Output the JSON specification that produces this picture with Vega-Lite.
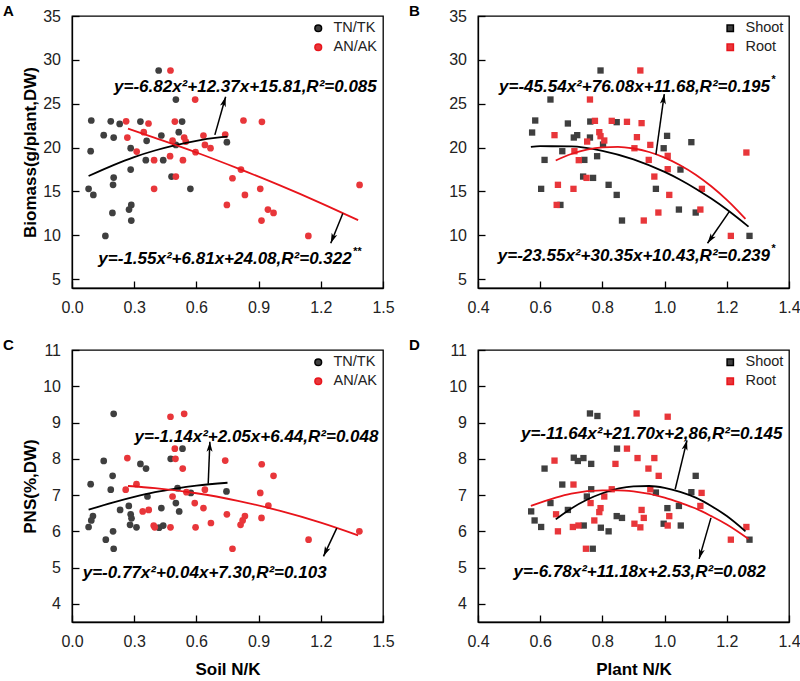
{
"$schema": "https://vega.github.io/schema/vega-lite/v6.json",
"background": "white",
"padding": {"left": 2, "top": 3, "right": 0, "bottom": 0},
"datasets": {
"pts": [
{"p":"A","s":"TN/TK","x":0.418,"y":28.79},{"p":"A","s":"TN/TK","x":0.501,"y":25.48},{"p":"A","s":"TN/TK","x":0.093,"y":23.09},{"p":"A","s":"TN/TK","x":0.187,"y":23.0},{"p":"A","s":"TN/TK","x":0.230,"y":22.7},{"p":"A","s":"TN/TK","x":0.330,"y":22.97},{"p":"A","s":"TN/TK","x":0.531,"y":22.97},{"p":"A","s":"TN/TK","x":0.153,"y":21.42},{"p":"A","s":"TN/TK","x":0.201,"y":21.15},{"p":"A","s":"TN/TK","x":0.431,"y":21.38},{"p":"A","s":"TN/TK","x":0.515,"y":21.76},{"p":"A","s":"TN/TK","x":0.360,"y":20.77},{"p":"A","s":"TN/TK","x":0.090,"y":19.59},{"p":"A","s":"TN/TK","x":0.283,"y":19.93},{"p":"A","s":"TN/TK","x":0.501,"y":20.31},{"p":"A","s":"TN/TK","x":0.747,"y":20.62},{"p":"A","s":"TN/TK","x":0.356,"y":18.57},{"p":"A","s":"TN/TK","x":0.440,"y":18.57},{"p":"A","s":"TN/TK","x":0.283,"y":17.5},{"p":"A","s":"TN/TK","x":0.480,"y":16.7},{"p":"A","s":"TN/TK","x":0.201,"y":16.59},{"p":"A","s":"TN/TK","x":0.198,"y":15.76},{"p":"A","s":"TN/TK","x":0.080,"y":15.3},{"p":"A","s":"TN/TK","x":0.103,"y":14.61},{"p":"A","s":"TN/TK","x":0.571,"y":15.3},{"p":"A","s":"TN/TK","x":0.286,"y":13.47},{"p":"A","s":"TN/TK","x":0.275,"y":12.94},{"p":"A","s":"TN/TK","x":0.195,"y":12.56},{"p":"A","s":"TN/TK","x":0.286,"y":11.69},{"p":"A","s":"TN/TK","x":0.161,"y":9.94},
{"p":"A","s":"AN/AK","x":0.475,"y":28.79},{"p":"A","s":"AN/AK","x":0.594,"y":25.48},{"p":"A","s":"AN/AK","x":0.261,"y":23.0},{"p":"A","s":"AN/AK","x":0.369,"y":22.75},{"p":"A","s":"AN/AK","x":0.496,"y":22.97},{"p":"A","s":"AN/AK","x":0.827,"y":23.09},{"p":"A","s":"AN/AK","x":0.916,"y":22.94},{"p":"A","s":"AN/AK","x":0.346,"y":21.76},{"p":"A","s":"AN/AK","x":0.267,"y":21.15},{"p":"A","s":"AN/AK","x":0.541,"y":21.15},{"p":"A","s":"AN/AK","x":0.634,"y":21.38},{"p":"A","s":"AN/AK","x":0.739,"y":21.49},{"p":"A","s":"AN/AK","x":0.485,"y":20.81},{"p":"A","s":"AN/AK","x":0.549,"y":20.69},{"p":"A","s":"AN/AK","x":0.641,"y":20.31},{"p":"A","s":"AN/AK","x":0.668,"y":19.93},{"p":"A","s":"AN/AK","x":0.312,"y":19.55},{"p":"A","s":"AN/AK","x":0.596,"y":19.48},{"p":"A","s":"AN/AK","x":0.396,"y":18.57},{"p":"A","s":"AN/AK","x":0.473,"y":19.02},{"p":"A","s":"AN/AK","x":0.535,"y":18.57},{"p":"A","s":"AN/AK","x":0.815,"y":17.5},{"p":"A","s":"AN/AK","x":0.774,"y":16.51},{"p":"A","s":"AN/AK","x":0.501,"y":16.7},{"p":"A","s":"AN/AK","x":0.396,"y":15.3},{"p":"A","s":"AN/AK","x":0.908,"y":15.3},{"p":"A","s":"AN/AK","x":0.834,"y":14.61},{"p":"A","s":"AN/AK","x":0.747,"y":13.47},{"p":"A","s":"AN/AK","x":0.945,"y":12.94},{"p":"A","s":"AN/AK","x":0.972,"y":12.56},{"p":"A","s":"AN/AK","x":0.914,"y":11.69},{"p":"A","s":"AN/AK","x":1.140,"y":9.94},{"p":"A","s":"AN/AK","x":1.387,"y":15.75},
{"p":"B","s":"Shoot","x":0.794,"y":28.79},{"p":"B","s":"Shoot","x":0.633,"y":25.48},{"p":"B","s":"Shoot","x":0.584,"y":23.09},{"p":"B","s":"Shoot","x":0.689,"y":22.75},{"p":"B","s":"Shoot","x":0.761,"y":22.97},{"p":"B","s":"Shoot","x":0.846,"y":22.9},{"p":"B","s":"Shoot","x":0.574,"y":21.72},{"p":"B","s":"Shoot","x":0.719,"y":21.42},{"p":"B","s":"Shoot","x":0.708,"y":21.15},{"p":"B","s":"Shoot","x":0.760,"y":21.15},{"p":"B","s":"Shoot","x":1.008,"y":21.34},{"p":"B","s":"Shoot","x":1.086,"y":20.62},{"p":"B","s":"Shoot","x":0.802,"y":20.35},{"p":"B","s":"Shoot","x":0.997,"y":19.93},{"p":"B","s":"Shoot","x":0.671,"y":19.59},{"p":"B","s":"Shoot","x":0.614,"y":18.6},{"p":"B","s":"Shoot","x":0.742,"y":18.6},{"p":"B","s":"Shoot","x":0.783,"y":19.02},{"p":"B","s":"Shoot","x":1.051,"y":17.5},{"p":"B","s":"Shoot","x":0.738,"y":16.7},{"p":"B","s":"Shoot","x":0.770,"y":16.55},{"p":"B","s":"Shoot","x":0.603,"y":15.3},{"p":"B","s":"Shoot","x":0.820,"y":15.76},{"p":"B","s":"Shoot","x":0.972,"y":15.3},{"p":"B","s":"Shoot","x":0.846,"y":14.61},{"p":"B","s":"Shoot","x":0.665,"y":13.47},{"p":"B","s":"Shoot","x":1.046,"y":12.94},{"p":"B","s":"Shoot","x":1.100,"y":12.6},{"p":"B","s":"Shoot","x":0.863,"y":11.69},{"p":"B","s":"Shoot","x":1.273,"y":9.94},
{"p":"B","s":"Root","x":0.922,"y":28.79},{"p":"B","s":"Root","x":0.760,"y":25.48},{"p":"B","s":"Root","x":0.776,"y":23.05},{"p":"B","s":"Root","x":0.830,"y":23.05},{"p":"B","s":"Root","x":0.879,"y":22.94},{"p":"B","s":"Root","x":0.926,"y":22.79},{"p":"B","s":"Root","x":0.646,"y":21.42},{"p":"B","s":"Root","x":0.790,"y":21.76},{"p":"B","s":"Root","x":0.794,"y":21.3},{"p":"B","s":"Root","x":0.806,"y":20.81},{"p":"B","s":"Root","x":0.911,"y":21.19},{"p":"B","s":"Root","x":0.954,"y":20.31},{"p":"B","s":"Root","x":0.903,"y":19.93},{"p":"B","s":"Root","x":0.710,"y":19.59},{"p":"B","s":"Root","x":0.751,"y":20.69},{"p":"B","s":"Root","x":1.010,"y":19.06},{"p":"B","s":"Root","x":0.724,"y":18.57},{"p":"B","s":"Root","x":0.949,"y":18.6},{"p":"B","s":"Root","x":1.010,"y":17.54},{"p":"B","s":"Root","x":0.967,"y":16.7},{"p":"B","s":"Root","x":0.657,"y":15.76},{"p":"B","s":"Root","x":0.707,"y":15.3},{"p":"B","s":"Root","x":1.120,"y":15.3},{"p":"B","s":"Root","x":1.015,"y":14.61},{"p":"B","s":"Root","x":0.653,"y":13.47},{"p":"B","s":"Root","x":0.749,"y":16.55},{"p":"B","s":"Root","x":0.980,"y":12.6},{"p":"B","s":"Root","x":1.115,"y":12.94},{"p":"B","s":"Root","x":0.933,"y":11.69},{"p":"B","s":"Root","x":1.213,"y":9.94},{"p":"B","s":"Root","x":1.263,"y":19.44},
{"p":"C","s":"TN/TK","x":0.201,"y":9.24},{"p":"C","s":"TN/TK","x":0.533,"y":8.28},{"p":"C","s":"TN/TK","x":0.476,"y":8.0},{"p":"C","s":"TN/TK","x":0.153,"y":7.94},{"p":"C","s":"TN/TK","x":0.330,"y":7.86},{"p":"C","s":"TN/TK","x":0.357,"y":7.73},{"p":"C","s":"TN/TK","x":0.196,"y":7.53},{"p":"C","s":"TN/TK","x":0.090,"y":7.30},{"p":"C","s":"TN/TK","x":0.187,"y":7.15},{"p":"C","s":"TN/TK","x":0.364,"y":6.96},{"p":"C","s":"TN/TK","x":0.573,"y":7.06},{"p":"C","s":"TN/TK","x":0.745,"y":7.10},{"p":"C","s":"TN/TK","x":0.509,"y":7.19},{"p":"C","s":"TN/TK","x":0.274,"y":6.70},{"p":"C","s":"TN/TK","x":0.232,"y":6.59},{"p":"C","s":"TN/TK","x":0.431,"y":6.64},{"p":"C","s":"TN/TK","x":0.501,"y":6.78},{"p":"C","s":"TN/TK","x":0.517,"y":6.55},{"p":"C","s":"TN/TK","x":0.283,"y":6.47},{"p":"C","s":"TN/TK","x":0.287,"y":6.36},{"p":"C","s":"TN/TK","x":0.101,"y":6.42},{"p":"C","s":"TN/TK","x":0.093,"y":6.30},{"p":"C","s":"TN/TK","x":0.080,"y":6.12},{"p":"C","s":"TN/TK","x":0.280,"y":6.18},{"p":"C","s":"TN/TK","x":0.311,"y":6.11},{"p":"C","s":"TN/TK","x":0.420,"y":6.10},{"p":"C","s":"TN/TK","x":0.440,"y":6.16},{"p":"C","s":"TN/TK","x":0.198,"y":6.0},{"p":"C","s":"TN/TK","x":0.163,"y":5.77},{"p":"C","s":"TN/TK","x":0.201,"y":5.52},
{"p":"C","s":"AN/AK","x":0.475,"y":9.16},{"p":"C","s":"AN/AK","x":0.541,"y":9.24},{"p":"C","s":"AN/AK","x":0.496,"y":8.28},{"p":"C","s":"AN/AK","x":0.499,"y":8.0},{"p":"C","s":"AN/AK","x":0.267,"y":8.02},{"p":"C","s":"AN/AK","x":0.534,"y":7.73},{"p":"C","s":"AN/AK","x":0.739,"y":7.95},{"p":"C","s":"AN/AK","x":0.915,"y":7.85},{"p":"C","s":"AN/AK","x":0.972,"y":7.53},{"p":"C","s":"AN/AK","x":0.311,"y":7.30},{"p":"C","s":"AN/AK","x":0.259,"y":7.15},{"p":"C","s":"AN/AK","x":0.641,"y":7.15},{"p":"C","s":"AN/AK","x":0.552,"y":7.08},{"p":"C","s":"AN/AK","x":0.485,"y":6.96},{"p":"C","s":"AN/AK","x":0.908,"y":7.06},{"p":"C","s":"AN/AK","x":0.592,"y":6.78},{"p":"C","s":"AN/AK","x":0.634,"y":6.64},{"p":"C","s":"AN/AK","x":0.947,"y":6.71},{"p":"C","s":"AN/AK","x":0.341,"y":6.55},{"p":"C","s":"AN/AK","x":0.370,"y":6.59},{"p":"C","s":"AN/AK","x":0.747,"y":6.47},{"p":"C","s":"AN/AK","x":0.834,"y":6.42},{"p":"C","s":"AN/AK","x":0.823,"y":6.30},{"p":"C","s":"AN/AK","x":0.813,"y":6.18},{"p":"C","s":"AN/AK","x":0.914,"y":6.37},{"p":"C","s":"AN/AK","x":0.394,"y":6.16},{"p":"C","s":"AN/AK","x":0.399,"y":6.11},{"p":"C","s":"AN/AK","x":0.475,"y":6.11},{"p":"C","s":"AN/AK","x":0.596,"y":6.11},{"p":"C","s":"AN/AK","x":0.670,"y":6.23},{"p":"C","s":"AN/AK","x":0.774,"y":5.52},{"p":"C","s":"AN/AK","x":1.141,"y":5.77},{"p":"C","s":"AN/AK","x":1.386,"y":6.0},
{"p":"D","s":"Shoot","x":0.760,"y":9.25},{"p":"D","s":"Shoot","x":0.784,"y":9.18},{"p":"D","s":"Shoot","x":0.847,"y":8.28},{"p":"D","s":"Shoot","x":0.708,"y":8.03},{"p":"D","s":"Shoot","x":0.721,"y":7.94},{"p":"D","s":"Shoot","x":0.739,"y":8.02},{"p":"D","s":"Shoot","x":0.764,"y":7.86},{"p":"D","s":"Shoot","x":0.614,"y":7.73},{"p":"D","s":"Shoot","x":1.100,"y":7.53},{"p":"D","s":"Shoot","x":0.671,"y":7.29},{"p":"D","s":"Shoot","x":0.764,"y":7.16},{"p":"D","s":"Shoot","x":0.972,"y":7.07},{"p":"D","s":"Shoot","x":1.086,"y":7.08},{"p":"D","s":"Shoot","x":0.750,"y":6.96},{"p":"D","s":"Shoot","x":0.633,"y":6.78},{"p":"D","s":"Shoot","x":0.689,"y":6.59},{"p":"D","s":"Shoot","x":0.571,"y":6.55},{"p":"D","s":"Shoot","x":1.009,"y":6.64},{"p":"D","s":"Shoot","x":1.046,"y":6.70},{"p":"D","s":"Shoot","x":0.846,"y":6.42},{"p":"D","s":"Shoot","x":0.863,"y":6.37},{"p":"D","s":"Shoot","x":0.582,"y":6.30},{"p":"D","s":"Shoot","x":0.603,"y":6.12},{"p":"D","s":"Shoot","x":0.740,"y":6.16},{"p":"D","s":"Shoot","x":0.795,"y":6.10},{"p":"D","s":"Shoot","x":0.820,"y":6.0},{"p":"D","s":"Shoot","x":0.997,"y":6.21},{"p":"D","s":"Shoot","x":1.052,"y":6.16},{"p":"D","s":"Shoot","x":0.769,"y":5.52},{"p":"D","s":"Shoot","x":1.273,"y":5.77},
{"p":"D","s":"Root","x":0.910,"y":9.25},{"p":"D","s":"Root","x":1.010,"y":9.16},{"p":"D","s":"Root","x":0.879,"y":8.28},{"p":"D","s":"Root","x":0.646,"y":7.95},{"p":"D","s":"Root","x":0.913,"y":8.02},{"p":"D","s":"Root","x":0.967,"y":8.02},{"p":"D","s":"Root","x":0.842,"y":7.86},{"p":"D","s":"Root","x":0.948,"y":7.73},{"p":"D","s":"Root","x":0.981,"y":7.53},{"p":"D","s":"Root","x":0.707,"y":7.29},{"p":"D","s":"Root","x":0.830,"y":7.16},{"p":"D","s":"Root","x":0.954,"y":7.16},{"p":"D","s":"Root","x":0.806,"y":6.96},{"p":"D","s":"Root","x":1.119,"y":7.06},{"p":"D","s":"Root","x":0.762,"y":6.78},{"p":"D","s":"Root","x":0.794,"y":6.64},{"p":"D","s":"Root","x":0.790,"y":6.53},{"p":"D","s":"Root","x":0.926,"y":6.59},{"p":"D","s":"Root","x":1.115,"y":6.70},{"p":"D","s":"Root","x":0.651,"y":6.47},{"p":"D","s":"Root","x":1.015,"y":6.42},{"p":"D","s":"Root","x":0.933,"y":6.37},{"p":"D","s":"Root","x":0.774,"y":6.30},{"p":"D","s":"Root","x":0.705,"y":6.12},{"p":"D","s":"Root","x":0.723,"y":6.16},{"p":"D","s":"Root","x":0.903,"y":6.21},{"p":"D","s":"Root","x":0.922,"y":6.11},{"p":"D","s":"Root","x":1.010,"y":6.16},{"p":"D","s":"Root","x":0.657,"y":6.0},{"p":"D","s":"Root","x":0.747,"y":5.52},{"p":"D","s":"Root","x":1.213,"y":5.77},{"p":"D","s":"Root","x":1.263,"y":6.12}
],
"fit": [
{"p":"A","s":"TN/TK","x":0.08,"y":16.76},{"p":"A","s":"TN/TK","x":0.2,"y":18.01},{"p":"A","s":"TN/TK","x":0.3,"y":18.92},{"p":"A","s":"TN/TK","x":0.4,"y":19.67},{"p":"A","s":"TN/TK","x":0.5,"y":20.29},{"p":"A","s":"TN/TK","x":0.6,"y":20.78},{"p":"A","s":"TN/TK","x":0.7,"y":21.13},{"p":"A","s":"TN/TK","x":0.75,"y":21.25},
{"p":"A","s":"AN/AK","x":0.27,"y":22.17},{"p":"A","s":"AN/AK","x":0.4,"y":21.11},{"p":"A","s":"AN/AK","x":0.6,"y":19.44},{"p":"A","s":"AN/AK","x":0.8,"y":17.63},{"p":"A","s":"AN/AK","x":1.0,"y":15.72},{"p":"A","s":"AN/AK","x":1.2,"y":13.68},{"p":"A","s":"AN/AK","x":1.38,"y":11.73},
{"p":"B","s":"Shoot","x":0.57,"y":20.08},{"p":"B","s":"Shoot","x":0.6,"y":20.16},{"p":"B","s":"Shoot","x":0.7,"y":20.14},{"p":"B","s":"Shoot","x":0.8,"y":19.64},{"p":"B","s":"Shoot","x":0.9,"y":18.67},{"p":"B","s":"Shoot","x":1.0,"y":17.23},{"p":"B","s":"Shoot","x":1.05,"y":16.34},{"p":"B","s":"Shoot","x":1.1,"y":15.32},{"p":"B","s":"Shoot","x":1.15,"y":14.19},{"p":"B","s":"Shoot","x":1.2,"y":12.94},{"p":"B","s":"Shoot","x":1.27,"y":10.99},
{"p":"B","s":"Root","x":0.65,"y":18.53},{"p":"B","s":"Root","x":0.7,"y":19.27},{"p":"B","s":"Root","x":0.75,"y":19.76},{"p":"B","s":"Root","x":0.8,"y":20.03},{"p":"B","s":"Root","x":0.85,"y":20.09},{"p":"B","s":"Root","x":0.9,"y":19.9},{"p":"B","s":"Root","x":0.95,"y":19.5},{"p":"B","s":"Root","x":1.0,"y":18.86},{"p":"B","s":"Root","x":1.05,"y":17.99},{"p":"B","s":"Root","x":1.1,"y":16.91},{"p":"B","s":"Root","x":1.15,"y":15.59},{"p":"B","s":"Root","x":1.2,"y":14.04},{"p":"B","s":"Root","x":1.23,"y":13.0},{"p":"B","s":"Root","x":1.26,"y":11.88},
{"p":"C","s":"TN/TK","x":0.08,"y":6.6},{"p":"C","s":"TN/TK","x":0.2,"y":6.8},{"p":"C","s":"TN/TK","x":0.3,"y":6.95},{"p":"C","s":"TN/TK","x":0.4,"y":7.08},{"p":"C","s":"TN/TK","x":0.5,"y":7.18},{"p":"C","s":"TN/TK","x":0.6,"y":7.26},{"p":"C","s":"TN/TK","x":0.75,"y":7.34},
{"p":"C","s":"AN/AK","x":0.27,"y":7.25},{"p":"C","s":"AN/AK","x":0.4,"y":7.19},{"p":"C","s":"AN/AK","x":0.6,"y":7.05},{"p":"C","s":"AN/AK","x":0.8,"y":6.84},{"p":"C","s":"AN/AK","x":1.0,"y":6.57},{"p":"C","s":"AN/AK","x":1.2,"y":6.24},{"p":"C","s":"AN/AK","x":1.38,"y":5.89},
{"p":"D","s":"Shoot","x":0.65,"y":6.33},{"p":"D","s":"Shoot","x":0.7,"y":6.63},{"p":"D","s":"Shoot","x":0.75,"y":6.87},{"p":"D","s":"Shoot","x":0.8,"y":7.05},{"p":"D","s":"Shoot","x":0.9,"y":7.24},{"p":"D","s":"Shoot","x":0.95,"y":7.25},{"p":"D","s":"Shoot","x":1.0,"y":7.2},{"p":"D","s":"Shoot","x":1.05,"y":7.09},{"p":"D","s":"Shoot","x":1.1,"y":6.93},{"p":"D","s":"Shoot","x":1.15,"y":6.7},{"p":"D","s":"Shoot","x":1.2,"y":6.42},{"p":"D","s":"Shoot","x":1.26,"y":6.0},
{"p":"D","s":"Root","x":0.57,"y":6.7},{"p":"D","s":"Root","x":0.65,"y":6.93},{"p":"D","s":"Root","x":0.7,"y":7.04},{"p":"D","s":"Root","x":0.8,"y":7.13},{"p":"D","s":"Root","x":0.85,"y":7.13},{"p":"D","s":"Root","x":0.9,"y":7.1},{"p":"D","s":"Root","x":1.0,"y":6.93},{"p":"D","s":"Root","x":1.05,"y":6.79},{"p":"D","s":"Root","x":1.1,"y":6.63},{"p":"D","s":"Root","x":1.15,"y":6.42},{"p":"D","s":"Root","x":1.2,"y":6.19},{"p":"D","s":"Root","x":1.27,"y":5.79}
],
"arr": [
{"p":"A","x":0.741,"y":25.8,"tx":0.689,"ty":21.45,"a":16},
{"p":"A","x":1.248,"y":9.1,"tx":1.306,"ty":12.5,"a":202},
{"p":"B","x":0.999,"y":26.1,"tx":0.972,"ty":19.2,"a":8},
{"p":"B","x":1.138,"y":9.1,"tx":1.208,"ty":12.7,"a":215},
{"p":"C","x":0.665,"y":8.47,"tx":0.657,"ty":7.31,"a":2},
{"p":"C","x":1.213,"y":5.31,"tx":1.277,"ty":6.09,"a":205},
{"p":"D","x":1.072,"y":8.51,"tx":1.034,"ty":7.16,"a":14},
{"p":"D","x":1.111,"y":5.24,"tx":1.149,"ty":6.37,"a":196}
],
"eq": [
{"p":"A","x":1.47,"y":26.9,"t":"y=-6.82x²+12.37x+15.81,R²=0.085","st":""},
{"p":"A","x":1.349,"y":7.31,"t":"y=-1.55x²+6.81x+24.08,R²=0.322","st":"**"},
{"p":"B","x":1.339,"y":26.96,"t":"y=-45.54x²+76.08x+11.68,R²=0.195","st":"*"},
{"p":"B","x":1.339,"y":7.69,"t":"y=-23.55x²+30.35x+10.43,R²=0.239","st":"*"},
{"p":"C","x":1.478,"y":8.6,"t":"y=-1.14x²+2.05x+6.44,R²=0.048","st":""},
{"p":"C","x":1.228,"y":4.86,"t":"y=-0.77x²+0.04x+7.30,R²=0.103","st":""},
{"p":"D","x":1.379,"y":8.69,"t":"y=-11.64x²+21.70x+2,86,R²=0.145","st":""},
{"p":"D","x":1.325,"y":4.875,"t":"y=-6.78x²+11.18x+2.53,R²=0.082","st":""}
]
},
"columns": 2,
"spacing": {"row": 62, "column": 95},
"bounds": "flush",
"resolve": {"scale": {"color": "independent", "stroke": "independent", "x": "independent", "y": "independent"}, "legend": {"color": "independent"}},
"concat": [
{
"width": 311, "height": 272,
"title": {"text": "A"},
"encoding": {
"x": {"field": "x", "type": "quantitative", "title": null, "scale": {"domain": [0, 1.5], "nice": false, "zero": false}, "axis": {"values": [0, 0.3, 0.6, 0.9, 1.2, 1.5], "format": ".1f"}},
"y": {"field": "y", "type": "quantitative", "title": "Biomass(g/plant,DW)", "scale": {"domain": [4, 35], "nice": false, "zero": false}, "axis": {"values": [5, 10, 15, 20, 25, 30, 35]}}
},
"layer": [
{"data": {"name": "pts"}, "transform": [{"filter": "datum.p == 'A'"}], "mark": {"type": "point", "filled": true, "shape": "circle", "size": 45, "opacity": 1},
 "encoding": {"color": {"field": "s", "type": "nominal", "scale": {"domain": ["TN/TK", "AN/AK"], "range": ["#3f3f3f", "#e8363a"]}, "legend": {"orient": "top-right", "title": null, "offset": 5, "padding": 0, "symbolType": "circle", "symbolSize": 45, "labelFontSize": 14.5, "labelOffset": 8, "rowPadding": 4, "labelColor": "#222"}}}},
{"data": {"name": "fit"}, "transform": [{"filter": "datum.p == 'A'"}], "mark": {"type": "line", "interpolate": "monotone", "strokeWidth": 1.8},
 "encoding": {"stroke": {"field": "s", "type": "nominal", "scale": {"domain": ["TN/TK", "AN/AK"], "range": ["#000000", "#e8141b"]}, "legend": null}}},
{"data": {"name": "arr"}, "transform": [{"filter": "datum.p == 'A'"}], "mark": {"type": "rule", "color": "#000", "strokeWidth": 1.5},
 "encoding": {"x2": {"field": "tx"}, "y2": {"field": "ty"}}},
{"data": {"name": "arr"}, "transform": [{"filter": "datum.p == 'A'"}], "mark": {"type": "point", "shape": "M0,0L-0.6,2L0,1.5L0.6,2Z", "filled": true, "color": "#000", "size": 100, "opacity": 1},
 "encoding": {"angle": {"field": "a", "type": "quantitative", "scale": null}}},
{"data": {"name": "eq"}, "transform": [{"filter": "datum.p == 'A'"}], "mark": {"type": "text", "align": "right", "baseline": "middle", "fontSize": 17, "fontWeight": "bold", "fontStyle": "italic", "color": "#000"},
 "encoding": {"text": {"field": "t"}}},
{"data": {"name": "eq"}, "transform": [{"filter": "datum.p == 'A'"}], "mark": {"type": "text", "align": "left", "baseline": "middle", "dy": -7, "dx": 1, "fontSize": 11, "fontWeight": "bold", "fontStyle": "italic", "color": "#000"},
 "encoding": {"text": {"field": "st"}}}
]
},
{
"width": 311, "height": 272,
"title": {"text": "B"},
"encoding": {
"x": {"field": "x", "type": "quantitative", "title": null, "scale": {"domain": [0.4, 1.4], "nice": false, "zero": false}, "axis": {"values": [0.4, 0.6, 0.8, 1.0, 1.2, 1.4], "format": ".1f"}},
"y": {"field": "y", "type": "quantitative", "title": null, "scale": {"domain": [4, 35], "nice": false, "zero": false}, "axis": {"values": [5, 10, 15, 20, 25, 30, 35]}}
},
"layer": [
{"data": {"name": "pts"}, "transform": [{"filter": "datum.p == 'B'"}], "mark": {"type": "point", "filled": true, "shape": "square", "size": 40, "opacity": 1},
 "encoding": {"color": {"field": "s", "type": "nominal", "scale": {"domain": ["Shoot", "Root"], "range": ["#3f3f3f", "#e8363a"]}, "legend": {"orient": "top-right", "title": null, "offset": 5, "padding": 0, "symbolType": "square", "symbolSize": 40, "labelFontSize": 14.5, "labelOffset": 8, "rowPadding": 4, "labelColor": "#222"}}}},
{"data": {"name": "fit"}, "transform": [{"filter": "datum.p == 'B'"}], "mark": {"type": "line", "interpolate": "monotone", "strokeWidth": 1.8},
 "encoding": {"stroke": {"field": "s", "type": "nominal", "scale": {"domain": ["Shoot", "Root"], "range": ["#000000", "#e8141b"]}, "legend": null}}},
{"data": {"name": "arr"}, "transform": [{"filter": "datum.p == 'B'"}], "mark": {"type": "rule", "color": "#000", "strokeWidth": 1.5},
 "encoding": {"x2": {"field": "tx"}, "y2": {"field": "ty"}}},
{"data": {"name": "arr"}, "transform": [{"filter": "datum.p == 'B'"}], "mark": {"type": "point", "shape": "M0,0L-0.6,2L0,1.5L0.6,2Z", "filled": true, "color": "#000", "size": 100, "opacity": 1},
 "encoding": {"angle": {"field": "a", "type": "quantitative", "scale": null}}},
{"data": {"name": "eq"}, "transform": [{"filter": "datum.p == 'B'"}], "mark": {"type": "text", "align": "right", "baseline": "middle", "fontSize": 17, "fontWeight": "bold", "fontStyle": "italic", "color": "#000"},
 "encoding": {"text": {"field": "t"}}},
{"data": {"name": "eq"}, "transform": [{"filter": "datum.p == 'B'"}], "mark": {"type": "text", "align": "left", "baseline": "middle", "dy": -7, "dx": 1, "fontSize": 11, "fontWeight": "bold", "fontStyle": "italic", "color": "#000"},
 "encoding": {"text": {"field": "st"}}}
]
},
{
"width": 311, "height": 272,
"title": {"text": "C"},
"encoding": {
"x": {"field": "x", "type": "quantitative", "title": "Soil N/K", "scale": {"domain": [0, 1.5], "nice": false, "zero": false}, "axis": {"values": [0, 0.3, 0.6, 0.9, 1.2, 1.5], "format": ".1f"}},
"y": {"field": "y", "type": "quantitative", "title": "PNS(%,DW)", "scale": {"domain": [3.5, 11], "nice": false, "zero": false}, "axis": {"values": [4, 5, 6, 7, 8, 9, 10, 11]}}
},
"layer": [
{"data": {"name": "pts"}, "transform": [{"filter": "datum.p == 'C'"}], "mark": {"type": "point", "filled": true, "shape": "circle", "size": 45, "opacity": 1},
 "encoding": {"color": {"field": "s", "type": "nominal", "scale": {"domain": ["TN/TK", "AN/AK"], "range": ["#3f3f3f", "#e8363a"]}, "legend": {"orient": "top-right", "title": null, "offset": 5, "padding": 0, "symbolType": "circle", "symbolSize": 45, "labelFontSize": 14.5, "labelOffset": 8, "rowPadding": 4, "labelColor": "#222"}}}},
{"data": {"name": "fit"}, "transform": [{"filter": "datum.p == 'C'"}], "mark": {"type": "line", "interpolate": "monotone", "strokeWidth": 1.8},
 "encoding": {"stroke": {"field": "s", "type": "nominal", "scale": {"domain": ["TN/TK", "AN/AK"], "range": ["#000000", "#e8141b"]}, "legend": null}}},
{"data": {"name": "arr"}, "transform": [{"filter": "datum.p == 'C'"}], "mark": {"type": "rule", "color": "#000", "strokeWidth": 1.5},
 "encoding": {"x2": {"field": "tx"}, "y2": {"field": "ty"}}},
{"data": {"name": "arr"}, "transform": [{"filter": "datum.p == 'C'"}], "mark": {"type": "point", "shape": "M0,0L-0.6,2L0,1.5L0.6,2Z", "filled": true, "color": "#000", "size": 100, "opacity": 1},
 "encoding": {"angle": {"field": "a", "type": "quantitative", "scale": null}}},
{"data": {"name": "eq"}, "transform": [{"filter": "datum.p == 'C'"}], "mark": {"type": "text", "align": "right", "baseline": "middle", "fontSize": 17, "fontWeight": "bold", "fontStyle": "italic", "color": "#000"},
 "encoding": {"text": {"field": "t"}}}
]
},
{
"width": 311, "height": 272,
"title": {"text": "D"},
"encoding": {
"x": {"field": "x", "type": "quantitative", "title": "Plant N/K", "scale": {"domain": [0.4, 1.4], "nice": false, "zero": false}, "axis": {"values": [0.4, 0.6, 0.8, 1.0, 1.2, 1.4], "format": ".1f"}},
"y": {"field": "y", "type": "quantitative", "title": null, "scale": {"domain": [3.5, 11], "nice": false, "zero": false}, "axis": {"values": [4, 5, 6, 7, 8, 9, 10, 11]}}
},
"layer": [
{"data": {"name": "pts"}, "transform": [{"filter": "datum.p == 'D'"}], "mark": {"type": "point", "filled": true, "shape": "square", "size": 40, "opacity": 1},
 "encoding": {"color": {"field": "s", "type": "nominal", "scale": {"domain": ["Shoot", "Root"], "range": ["#3f3f3f", "#e8363a"]}, "legend": {"orient": "top-right", "title": null, "offset": 5, "padding": 0, "symbolType": "square", "symbolSize": 40, "labelFontSize": 14.5, "labelOffset": 8, "rowPadding": 4, "labelColor": "#222"}}}},
{"data": {"name": "fit"}, "transform": [{"filter": "datum.p == 'D'"}], "mark": {"type": "line", "interpolate": "monotone", "strokeWidth": 1.8},
 "encoding": {"stroke": {"field": "s", "type": "nominal", "scale": {"domain": ["Shoot", "Root"], "range": ["#000000", "#e8141b"]}, "legend": null}}},
{"data": {"name": "arr"}, "transform": [{"filter": "datum.p == 'D'"}], "mark": {"type": "rule", "color": "#000", "strokeWidth": 1.5},
 "encoding": {"x2": {"field": "tx"}, "y2": {"field": "ty"}}},
{"data": {"name": "arr"}, "transform": [{"filter": "datum.p == 'D'"}], "mark": {"type": "point", "shape": "M0,0L-0.6,2L0,1.5L0.6,2Z", "filled": true, "color": "#000", "size": 100, "opacity": 1},
 "encoding": {"angle": {"field": "a", "type": "quantitative", "scale": null}}},
{"data": {"name": "eq"}, "transform": [{"filter": "datum.p == 'D'"}], "mark": {"type": "text", "align": "right", "baseline": "middle", "fontSize": 17, "fontWeight": "bold", "fontStyle": "italic", "color": "#000"},
 "encoding": {"text": {"field": "t"}}}
]
}
],
"config": {
"font": "Liberation Sans",
"view": {"stroke": "#000", "strokeWidth": 1.3},
"axis": {"domainColor": "#000", "domainWidth": 1.3, "tickColor": "#000", "tickWidth": 1.3, "tickSize": -7, "labelFont": "Liberation Sans", "labelFontSize": 16, "labelColor": "#222", "titleFont": "Liberation Sans", "titleFontSize": 17, "titleFontWeight": "bold", "titleColor": "#000", "grid": false, "labelFlush": false, "labelOverlap": false, "labelBound": false},
"axisX": {"labelPadding": 18, "titlePadding": 12},
"axisY": {"labelPadding": 18.5, "titlePadding": 3},
"legend": {"labelFont": "Liberation Sans"},
"title": {"font": "Liberation Sans", "fontSize": 15, "fontWeight": "bold", "color": "#000", "anchor": "start", "frame": "group", "dx": -69, "offset": -11, "baseline": "alphabetic"}
}
}
